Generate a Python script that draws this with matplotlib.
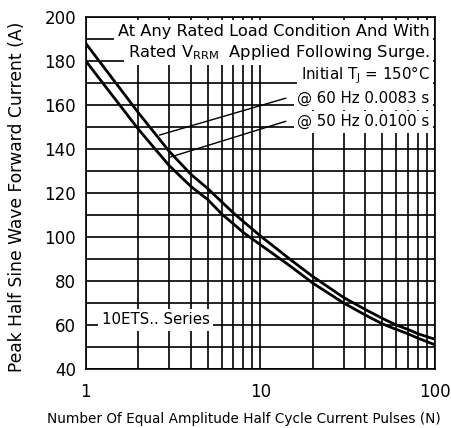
import matplotlib
matplotlib.use("Agg")
import matplotlib.pyplot as plt
from matplotlib.ticker import FixedLocator, NullFormatter

# pulses N and peak current (A)
pulses = [1, 2, 3, 4, 5, 6, 7, 8, 10, 15, 20, 30, 40, 50, 60, 70, 80, 100]
i_60hz = [188, 156.5, 139, 128.5, 122, 116, 111, 107, 100.5, 89.5, 82, 72.5, 67, 63, 60, 58, 56, 53.5]
i_50hz = [180, 149, 132.5, 123, 117, 110.5, 106, 102, 96.5, 86.5, 79, 70, 64.5, 60.5, 58, 56, 54, 51]

y_ticks = [40, 60, 80, 100, 120, 140, 160, 180, 200]
x_ticks = [1, 10, 100]

fig = plt.figure(figsize=(4.52, 4.28), dpi=100)
ax = fig.add_axes([0.190, 0.138, 0.772, 0.822])

ax.plot(pulses, i_60hz, color="black", lw=2.0, zorder=3)
ax.plot(pulses, i_50hz, color="black", lw=2.0, zorder=3)

ax.set_xscale("log")
ax.set_xlim(1, 100)
ax.set_ylim(40, 200)
ax.set_xticks(x_ticks)
ax.set_xticklabels([str(v) for v in x_ticks])
ax.xaxis.set_minor_formatter(NullFormatter())
ax.set_yticks(y_ticks)
ax.yaxis.set_minor_locator(FixedLocator(range(50, 200, 20)))
ax.grid(True, which="both", color="black", lw=1.2)
ax.tick_params(which="both", length=0, labelsize=12)
ax.tick_params(axis="x", pad=10)
ax.tick_params(axis="y", pad=7)
for s in ax.spines.values():
    s.set_linewidth(1.2)

ax.set_ylabel("Peak Half Sine Wave Forward Current (A)", fontsize=12.3)
ax.yaxis.set_label_coords(-0.172, 0.49)
fig.text(0.54, 0.021, "Number Of Equal Amplitude Half Cycle Current Pulses (N)",
         ha="center", va="center", fontsize=9.8)

box = dict(facecolor="white", edgecolor="none", pad=2.5)
tr = ax.transAxes
ax.text(0.985, 0.960, "At Any Rated Load Condition And With", transform=tr, ha="right", va="center",
        fontsize=11.7, bbox=box, zorder=4)
ax.text(0.985, 0.900, "Rated V$_{\\mathregular{RRM}}$  Applied Following Surge.", transform=tr, ha="right",
        va="center", fontsize=11.7, bbox=box, zorder=5)
ax.text(0.985, 0.835, "Initial T$_{\\mathregular{J}}$ = 150°C", transform=tr, ha="right", va="center",
        fontsize=10.8, bbox=box, zorder=4)
ax.text(0.985, 0.768, "@ 60 Hz 0.0083 s", transform=tr, ha="right", va="center",
        fontsize=10.8, bbox=box, zorder=4)
ax.text(0.985, 0.703, "@ 50 Hz 0.0100 s", transform=tr, ha="right", va="center",
        fontsize=10.8, bbox=box, zorder=4)
ax.text(0.045, 0.14, "10ETS.. Series", transform=tr, ha="left", va="center",
        fontsize=10.8, bbox=box, zorder=4)

# leader lines from the labels to the curves
ax.annotate("", xy=(2.55, 146), xytext=(14.5, 163.5),
            arrowprops=dict(arrowstyle="-", color="black", lw=1.0), zorder=4)
ax.annotate("", xy=(2.95, 136), xytext=(14.5, 153),
            arrowprops=dict(arrowstyle="-", color="black", lw=1.0), zorder=4)

fig.savefig("out.png", dpi=100)
